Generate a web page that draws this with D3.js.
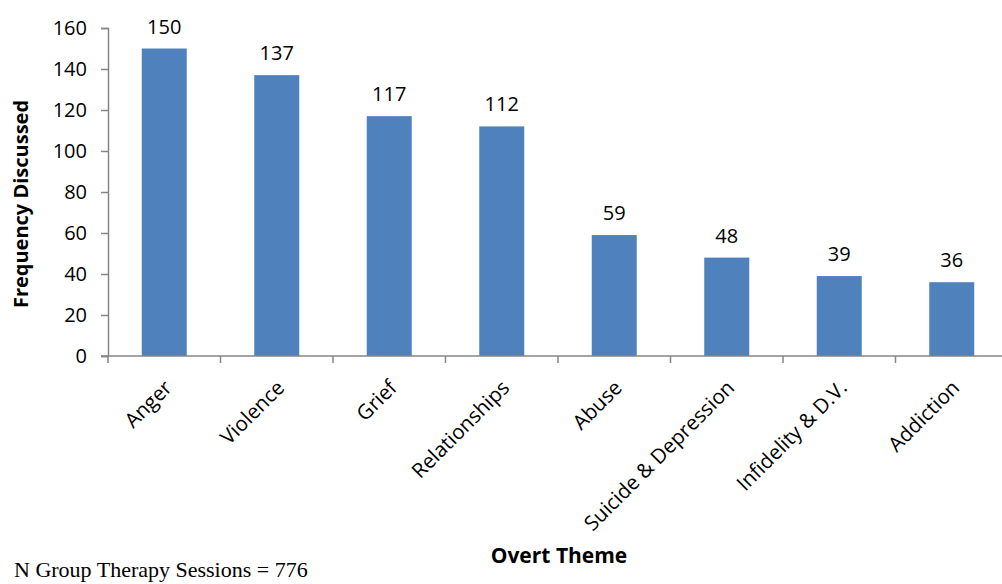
<!DOCTYPE html>
<html>
<head>
<meta charset="utf-8">
<script src="https://cdn.jsdelivr.net/npm/d3@7"></script>
<style>
  body { margin: 0; background: #fff; }
  #chart { width: 1002px; height: 584px; }
</style>
</head>
<body>
<div id="chart"></div>
<script>
const themes = ["Anger", "Violence", "Grief", "Relationships", "Abuse", "Suicide & Depression", "Infidelity & D.V.", "Addiction"];
const frequency = [150, 137, 117, 112, 59, 48, 39, 36];
const yTicks = [0, 20, 40, 60, 80, 100, 120, 140, 160];

const FONT = "'Open Sans', Lato, sans-serif";
const BAR = "#4F81BD";
const AXIS = "#868686";

const svg = d3.select("#chart")
  .append("svg")
  .attr("width", 1002)
  .attr("height", 584);

// scales
const x = d3.scaleBand()
  .domain(themes)
  .range([108, 1008])
  .paddingInner(0.6)
  .paddingOuter(0.3);

const band = d3.scaleBand().domain(themes).range([108, 1008]);

const y = d3.scaleLinear()
  .domain([0, 160])
  .range([356, 28]);

// y axis
const yAxis = svg.append("g")
  .attr("transform", "translate(108,0)")
  .call(d3.axisLeft(y).tickValues(yTicks).tickSize(7).tickPadding(14));
yAxis.select(".domain").attr("stroke", AXIS).attr("stroke-width", 1.5);
yAxis.selectAll(".tick line").attr("stroke", AXIS).attr("stroke-width", 1.5);
yAxis.selectAll(".tick text")
  .attr("font-family", FONT)
  .attr("font-size", "20px")
  .attr("fill", "#000");

// bars
svg.append("g")
  .selectAll("rect")
  .data(themes)
  .enter()
  .append("rect")
  .attr("x", (d) => x(d))
  .attr("width", x.bandwidth())
  .attr("y", (d, i) => y(frequency[i]))
  .attr("height", (d, i) => y(0) - y(frequency[i]))
  .attr("fill", BAR);

// x axis: ticks at band boundaries
const boundaries = themes.map((d) => band(d)).concat([band.range()[1]]);
const xAxis = svg.append("g").attr("transform", `translate(0,${y(0)})`);
xAxis.append("line")
  .attr("x1", 101).attr("x2", 1008)
  .attr("stroke", AXIS).attr("stroke-width", 1.5);
xAxis.selectAll(".xt")
  .data(boundaries)
  .enter()
  .append("line")
  .attr("x1", (d) => d).attr("x2", (d) => d)
  .attr("y1", 0).attr("y2", 7)
  .attr("stroke", AXIS).attr("stroke-width", 1.5);

// rotated category labels
svg.append("g")
  .selectAll("text")
  .data(themes)
  .enter()
  .append("text")
  .attr("transform", (d) => `translate(${band(d) + band.bandwidth() / 2 + 9},${y(0) + 33}) rotate(-45)`)
  .attr("text-anchor", "end")
  .attr("font-family", FONT)
  .attr("font-size", "20.5px")
  .attr("fill", "#000")
  .text((d) => d);

// value labels
svg.append("g")
  .selectAll("text")
  .data(themes)
  .enter()
  .append("text")
  .attr("x", (d) => x(d) + x.bandwidth() / 2)
  .attr("y", (d, i) => y(frequency[i]) - 15)
  .attr("text-anchor", "middle")
  .attr("font-family", FONT)
  .attr("font-size", "20px")
  .attr("fill", "#000")
  .text((d, i) => frequency[i]);

// axis titles
svg.append("text")
  .attr("transform", "translate(28,204) rotate(-90)")
  .attr("text-anchor", "middle")
  .attr("font-family", FONT)
  .attr("font-size", "20px")
  .attr("font-weight", "700")
  .text("Frequency Discussed");

svg.append("text")
  .attr("x", 559)
  .attr("y", 563)
  .attr("text-anchor", "middle")
  .attr("font-family", FONT)
  .attr("font-size", "21px")
  .attr("font-weight", "700")
  .text("Overt Theme");

svg.append("text")
  .attr("x", 14)
  .attr("y", 577)
  .attr("font-family", "'Liberation Serif', 'Times New Roman', serif")
  .attr("font-size", "22px")
  .attr("fill", "#000")
  .text("N Group Therapy Sessions = 776");
</script>
</body>
</html>
